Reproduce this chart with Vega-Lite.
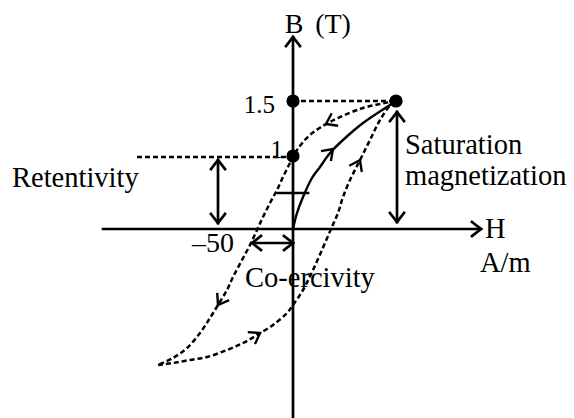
{
  "$schema": "https://vega.github.io/schema/vega-lite/v6.json",
  "width": 574,
  "height": 418,
  "autosize": "none",
  "padding": 0,
  "background": "white",
  "config": {"view": {"stroke": null}},
  "datasets": {
    "dashed": [
      {"g": "sat", "o": 0, "u": 0, "v": 128}, {"g": "sat", "o": 1, "u": 103, "v": 128},
      {"g": "ret", "o": 0, "u": -156, "v": 72}, {"g": "ret", "o": 1, "u": 0, "v": 72},
      {"g": "up", "o": 0, "u": 103, "v": 128}, {"g": "up", "o": 1, "u": 70, "v": 121}, {"g": "up", "o": 2, "u": 37, "v": 107},
      {"g": "up", "o": 3, "u": 17, "v": 94}, {"g": "up", "o": 4, "u": 4, "v": 79}, {"g": "up", "o": 5, "u": -3, "v": 66},
      {"g": "up", "o": 6, "u": -10, "v": 52}, {"g": "up", "o": 7, "u": -16, "v": 39}, {"g": "up", "o": 8, "u": -23, "v": 26},
      {"g": "up", "o": 9, "u": -30, "v": 12}, {"g": "up", "o": 10, "u": -36, "v": -1}, {"g": "up", "o": 11, "u": -43, "v": -16},
      {"g": "up", "o": 12, "u": -51, "v": -31}, {"g": "up", "o": 13, "u": -60, "v": -48}, {"g": "up", "o": 14, "u": -66, "v": -61},
      {"g": "up", "o": 15, "u": -75, "v": -76}, {"g": "up", "o": 16, "u": -83, "v": -89}, {"g": "up", "o": 17, "u": -93, "v": -104},
      {"g": "up", "o": 18, "u": -106, "v": -119}, {"g": "up", "o": 19, "u": -120, "v": -129}, {"g": "up", "o": 20, "u": -135, "v": -136},
      {"g": "low", "o": 0, "u": -135, "v": -136}, {"g": "low", "o": 1, "u": -120, "v": -134}, {"g": "low", "o": 2, "u": -103, "v": -131},
      {"g": "low", "o": 3, "u": -86, "v": -128}, {"g": "low", "o": 4, "u": -66, "v": -121}, {"g": "low", "o": 5, "u": -50, "v": -114},
      {"g": "low", "o": 6, "u": -36, "v": -106}, {"g": "low", "o": 7, "u": -20, "v": -96}, {"g": "low", "o": 8, "u": -6, "v": -84},
      {"g": "low", "o": 9, "u": 0, "v": -76}, {"g": "low", "o": 10, "u": 10, "v": -61}, {"g": "low", "o": 11, "u": 20, "v": -41},
      {"g": "low", "o": 12, "u": 29, "v": -21}, {"g": "low", "o": 13, "u": 38, "v": 0}, {"g": "low", "o": 14, "u": 45, "v": 16},
      {"g": "low", "o": 15, "u": 50, "v": 32}, {"g": "low", "o": 16, "u": 57, "v": 49}, {"g": "low", "o": 17, "u": 67, "v": 69},
      {"g": "low", "o": 18, "u": 77, "v": 89}, {"g": "low", "o": 19, "u": 87, "v": 109}, {"g": "low", "o": 20, "u": 100, "v": 127},
      {"g": "low", "o": 21, "u": 103, "v": 128}
    ],
    "solid": [
      {"g": "haxis", "o": 0, "u": -190, "v": 0}, {"g": "haxis", "o": 1, "u": 188, "v": 0},
      {"g": "hax_a", "o": 0, "u": 179, "v": 7}, {"g": "hax_a", "o": 1, "u": 188, "v": 0}, {"g": "hax_a", "o": 2, "u": 179, "v": -7},
      {"g": "baxis", "o": 0, "u": 0, "v": -189}, {"g": "baxis", "o": 1, "u": 0, "v": 192},
      {"g": "bax_a", "o": 0, "u": -7, "v": 183}, {"g": "bax_a", "o": 1, "u": 0, "v": 192}, {"g": "bax_a", "o": 2, "u": 7, "v": 183},
      {"g": "tick", "o": 0, "u": -15, "v": 36}, {"g": "tick", "o": 1, "u": 15, "v": 36},
      {"g": "ret", "o": 0, "u": -75, "v": 69}, {"g": "ret", "o": 1, "u": -75, "v": 6},
      {"g": "ret_a1", "o": 0, "u": -82, "v": 60}, {"g": "ret_a1", "o": 1, "u": -75, "v": 69}, {"g": "ret_a1", "o": 2, "u": -68, "v": 60},
      {"g": "ret_a2", "o": 0, "u": -82, "v": 15}, {"g": "ret_a2", "o": 1, "u": -75, "v": 6}, {"g": "ret_a2", "o": 2, "u": -68, "v": 15},
      {"g": "satv", "o": 0, "u": 104, "v": 117}, {"g": "satv", "o": 1, "u": 104, "v": 7},
      {"g": "sat_a1", "o": 0, "u": 97, "v": 108}, {"g": "sat_a1", "o": 1, "u": 104, "v": 117}, {"g": "sat_a1", "o": 2, "u": 111, "v": 108},
      {"g": "sat_a2", "o": 0, "u": 97, "v": 16}, {"g": "sat_a2", "o": 1, "u": 104, "v": 7}, {"g": "sat_a2", "o": 2, "u": 111, "v": 16},
      {"g": "coer", "o": 0, "u": -41, "v": -14}, {"g": "coer", "o": 1, "u": 0, "v": -14},
      {"g": "co_a1", "o": 0, "u": -32, "v": -7}, {"g": "co_a1", "o": 1, "u": -41, "v": -14}, {"g": "co_a1", "o": 2, "u": -32, "v": -21},
      {"g": "co_a2", "o": 0, "u": -9, "v": -7}, {"g": "co_a2", "o": 1, "u": 0, "v": -14}, {"g": "co_a2", "o": 2, "u": -9, "v": -21}
    ],
    "initial": [
      {"o": 0, "u": 0, "v": 0}, {"o": 1, "u": 4, "v": 16}, {"o": 2, "u": 10, "v": 32}, {"o": 3, "u": 19, "v": 51},
      {"o": 4, "u": 27, "v": 62}, {"o": 5, "u": 37, "v": 76}, {"o": 6, "u": 50, "v": 89}, {"o": 7, "u": 70, "v": 106},
      {"o": 8, "u": 100, "v": 126}, {"o": 9, "u": 103, "v": 128}
    ],
    "chev": [
      {"g": "c1", "o": 0, "u": 45.1, "v": 103.3}, {"g": "c1", "o": 1, "u": 33, "v": 105}, {"g": "c1", "o": 2, "u": 38.7, "v": 115.7},
      {"g": "c2", "o": 0, "u": 28, "v": 77.9}, {"g": "c2", "o": 1, "u": 40, "v": 80}, {"g": "c2", "o": 2, "u": 37.9, "v": 68},
      {"g": "c3", "o": 0, "u": 56.3, "v": 63.2}, {"g": "c3", "o": 1, "u": 67, "v": 69}, {"g": "c3", "o": 2, "u": 68.8, "v": 57},
      {"g": "c4", "o": 0, "u": -63.8, "v": -71.1}, {"g": "c4", "o": 1, "u": -75, "v": -76}, {"g": "c4", "o": 2, "u": -75.8, "v": -63.9},
      {"g": "c5", "o": 0, "u": -45.2, "v": -103.1}, {"g": "c5", "o": 1, "u": -33, "v": -104}, {"g": "c5", "o": 2, "u": -38, "v": -115.1}
    ],
    "dots": [
      {"u": 0, "v": 128}, {"u": 0, "v": 73}, {"u": 103, "v": 128}
    ],
    "labels_left": [
      {"u": -281, "v": 42, "t": "Retentivity"},
      {"u": 112, "v": 75, "t": "Saturation"},
      {"u": 112, "v": 44, "t": "magnetization"},
      {"u": 192, "v": -9, "t": "H"},
      {"u": 187, "v": -43, "t": "A/m"},
      {"u": -48, "v": -58, "t": "Co-ercivity"}
    ],
    "labels_center": [
      {"u": 1, "v": 196, "t": "B"},
      {"u": 40, "v": 196, "t": "(T)"}
    ],
    "numbers": [
      {"u": -18, "v": 116, "t": "1.5"},
      {"u": -10, "v": 71, "t": "1"}
    ],
    "neg": [
      {"u": -59, "v": -23, "t": "–50"}
    ]
  },
  "encoding": {
    "x": {"field": "u", "type": "quantitative", "scale": {"domain": [-293, 281], "nice": false, "zero": false}, "axis": null},
    "y": {"field": "v", "type": "quantitative", "scale": {"domain": [-189, 229], "nice": false, "zero": false}, "axis": null}
  },
  "layer": [
    {
      "data": {"name": "dashed"},
      "mark": {"type": "line", "color": "black", "strokeWidth": 2.5, "strokeDash": [5, 3], "interpolate": "catmull-rom"},
      "encoding": {"detail": {"field": "g"}, "order": {"field": "o"}}
    },
    {
      "data": {"name": "solid"},
      "mark": {"type": "line", "color": "black", "strokeWidth": 2.7, "strokeCap": "square"},
      "encoding": {"detail": {"field": "g"}, "order": {"field": "o"}}
    },
    {
      "data": {"name": "initial"},
      "mark": {"type": "line", "color": "black", "strokeWidth": 2.4, "interpolate": "catmull-rom"},
      "encoding": {"order": {"field": "o"}}
    },
    {
      "data": {"name": "chev"},
      "mark": {"type": "line", "color": "black", "strokeWidth": 2.4},
      "encoding": {"detail": {"field": "g"}, "order": {"field": "o"}}
    },
    {
      "data": {"name": "dots"},
      "mark": {"type": "circle", "color": "black", "opacity": 1, "size": 175}
    },
    {
      "data": {"name": "labels_left"},
      "mark": {"type": "text", "align": "left", "baseline": "alphabetic", "font": "Liberation Serif", "fontSize": 28.5, "color": "black"},
      "encoding": {"text": {"field": "t"}}
    },
    {
      "data": {"name": "labels_center"},
      "mark": {"type": "text", "align": "center", "baseline": "alphabetic", "font": "Liberation Serif", "fontSize": 28, "color": "black"},
      "encoding": {"text": {"field": "t"}}
    },
    {
      "data": {"name": "numbers"},
      "mark": {"type": "text", "align": "right", "baseline": "alphabetic", "font": "Liberation Serif", "fontSize": 25, "color": "black"},
      "encoding": {"text": {"field": "t"}}
    },
    {
      "data": {"name": "neg"},
      "mark": {"type": "text", "align": "right", "baseline": "alphabetic", "font": "Liberation Serif", "fontSize": 28, "color": "black"},
      "encoding": {"text": {"field": "t"}}
    }
  ]
}
